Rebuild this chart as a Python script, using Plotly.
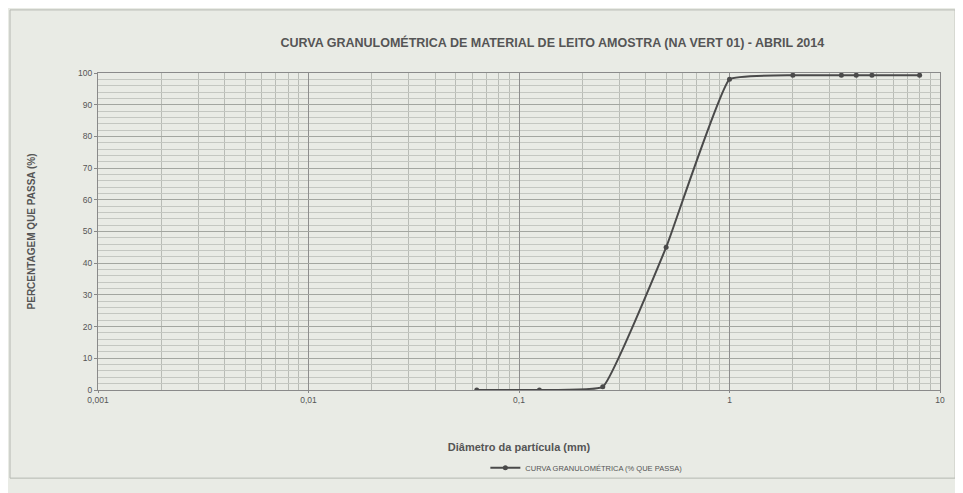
import plotly.graph_objects as go

# Data
diametro_mm = [0.063, 0.125, 0.25, 0.5, 1.0, 2.0, 3.4, 4.0, 4.75, 8.0]
passa_pct = [0, 0, 1, 45, 98, 99.3, 99.3, 99.3, 99.3, 99.3]

x_tick_vals = [0.001, 0.01, 0.1, 1, 10]
x_tick_text = ["0,001", "0,01", "0,1", "1", "10"]
y_tick_vals = [0, 10, 20, 30, 40, 50, 60, 70, 80, 90, 100]

title_text = "CURVA GRANULOMÉTRICA DE MATERIAL DE LEITO AMOSTRA (NA VERT 01) - ABRIL 2014"
x_title = "Diâmetro da partícula (mm)"
y_title = "PERCENTAGEM QUE PASSA (%)"
series_name = "CURVA GRANULOMÉTRICA (% QUE PASSA)"

minor_x = [m * 10 ** e for e in range(-3, 1) for m in range(2, 10)]

bg = "#e9ebe5"
font_col = "#555555"

fig = go.Figure()
fig.add_trace(go.Scatter(
    x=diametro_mm, y=passa_pct, mode="lines+markers", name=series_name,
    line=dict(color="#4a4a4a", width=2, shape="spline", smoothing=0.3),
    marker=dict(color="#4a4a4a", size=5, symbol="circle"),
))

fig.update_layout(
    width=955, height=485,
    paper_bgcolor=bg, plot_bgcolor=bg,
    margin=dict(l=90, r=23, t=65, b=103, autoexpand=False),
    font=dict(family="Liberation Sans, Arial, sans-serif", size=8.5, color=font_col),
    title=dict(text="<b>" + title_text + "</b>", x=0.570, xanchor="center", y=0.928, yanchor="middle",
               font=dict(size=12.5, color="#555555")),
    showlegend=True,
    legend=dict(orientation="h", x=0.58, xanchor="center", y=-0.245, yanchor="middle",
                bgcolor="rgba(0,0,0,0)", font=dict(size=7.5, color=font_col)),
    xaxis=dict(
        type="log", range=[-3, 1],
        tickvals=x_tick_vals, ticktext=x_tick_text, ticks="outside", ticklen=2,
        tickcolor="#888888",
        showgrid=True, gridcolor="#8e8e8e", gridwidth=1,
        minor=dict(tickvals=minor_x, showgrid=True, gridcolor="#b9bcb6", gridwidth=1),
        showline=True, linecolor="#8a8a8a", mirror=True,
        title=dict(text="<b>" + x_title + "</b>", standoff=39, font=dict(size=11)),
        zeroline=False,
    ),
    yaxis=dict(
        range=[0, 100], tickvals=y_tick_vals, ticks="outside", ticklen=3,
        tickcolor="#888888",
        showgrid=True, gridcolor="#a3a6a0", gridwidth=1,
        minor=dict(dtick=2, showgrid=True, gridcolor="#c4c7c1", gridwidth=1),
        showline=True, linecolor="#8a8a8a", mirror=True,
        title=dict(text="<b>" + y_title + "</b>", standoff=40, font=dict(size=10)),
        zeroline=False,
    ),
)

fig.add_shape(type="rect", xref="paper", yref="paper", x0=-0.1045, x1=1.018, y0=-0.278, y1=1.199,
              line=dict(color="#b5b8b2", width=1), layer="below")

fig.write_html("out.html")
